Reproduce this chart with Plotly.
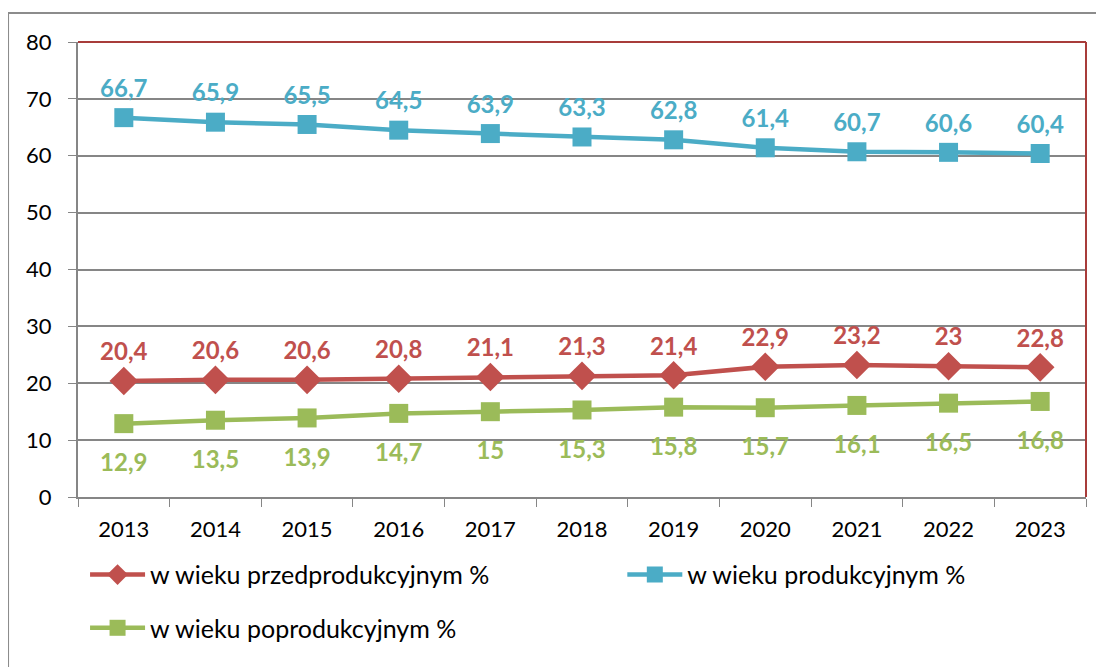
import plotly.graph_objects as go

years = ["2013", "2014", "2015", "2016", "2017", "2018", "2019", "2020", "2021", "2022", "2023"]
przed = [20.4, 20.6, 20.6, 20.8, 21.1, 21.3, 21.4, 22.9, 23.2, 23.0, 22.8]
prod = [66.7, 65.9, 65.5, 64.5, 63.9, 63.3, 62.8, 61.4, 60.7, 60.6, 60.4]
popr = [12.9, 13.5, 13.9, 14.7, 15.0, 15.3, 15.8, 15.7, 16.1, 16.5, 16.8]
names = ["w wieku przedprodukcyjnym %", "w wieku produkcyjnym %", "w wieku poprodukcyjnym %"]

RED = "#C0504D"
BLUE = "#4BACC6"
GREEN = "#9BBB59"
FONT = "Lato, Liberation Sans, sans-serif"

def fmt(v):
    s = ("%.1f" % v).rstrip("0").rstrip(".")
    return s.replace(".", ",")

fig = go.Figure()
series = [
    (przed, names[0], RED, "diamond", 22, "top center", 22, "legend"),
    (prod, names[1], BLUE, "square", 19, "top center", 22, "legend2"),
    (popr, names[2], GREEN, "square", 19, "bottom center", 46, "legend3"),
]
for vals, nm, col, sym, ms, tpos, tsize, leg in series:
    fig.add_trace(go.Scatter(x=years, y=vals, name=nm, mode="lines+markers",
                             line=dict(color=col, width=4.5),
                             marker=dict(symbol=sym, size=ms, color=col),
                             legend=leg))
for vals, nm, col, sym, ms, tpos, tsize, leg in series:
    fig.add_trace(go.Scatter(x=years, y=vals, mode="markers+text", showlegend=False,
                             marker=dict(size=tsize, color="rgba(0,0,0,0)"),
                             text=[fmt(v) for v in vals], textposition=tpos,
                             hoverinfo="skip",
                             textfont=dict(color=col, size=24, family=FONT, weight="bold")))

legfont = dict(size=25, family=FONT, color="black")
# page body has an 8px default margin, so the figure is offset by (8, 8)
fig.update_layout(
    width=1096, height=659,
    margin=dict(l=70, r=18, t=34, b=170),
    paper_bgcolor="white", plot_bgcolor="white",
    font=dict(family=FONT, size=22, color="black"),
    showlegend=True,
    legend=dict(orientation="h", x=0.007, y=-0.171, xanchor="left", yanchor="middle",
                itemwidth=55, font=legfont),
    legend2=dict(orientation="h", x=0.54, y=-0.171, xanchor="left", yanchor="middle",
                 itemwidth=55, font=legfont),
    legend3=dict(orientation="h", x=0.007, y=-0.288, xanchor="left", yanchor="middle",
                 itemwidth=55, font=legfont),
    xaxis=dict(type="category", tickson="boundaries", ticks="outside", ticklen=8,
               tickcolor="#868686", showline=True, linecolor="#868686", linewidth=2,
               range=[-0.5, 10.5], ticklabelstandoff=12,
               showgrid=False, tickfont=dict(size=22), fixedrange=True, automargin=False),
    yaxis=dict(range=[0, 80], dtick=10, ticks="outside", ticklen=8, tickcolor="#868686",
               showline=True, linecolor="#868686", linewidth=2, showgrid=True,
               gridcolor="#868686", gridwidth=1.5, zeroline=False, tickfont=dict(size=22),
               ticklabelstandoff=12, fixedrange=True, automargin=False),
    shapes=[
        dict(type="line", xref="paper", yref="paper", x0=0, x1=1, y0=1, y1=1,
             line=dict(color="#A83C3A", width=2)),
        dict(type="line", xref="paper", yref="paper", x0=1, x1=1, y0=0, y1=1,
             line=dict(color="#A83C3A", width=2)),
        dict(type="rect", xref="paper", yref="paper", x0=-0.0694, x1=1.05, y0=-0.5, y1=1.0637,
             line=dict(color="#8C8C8C", width=2), layer="below"),
    ],
)

fig.write_html("out.html")
